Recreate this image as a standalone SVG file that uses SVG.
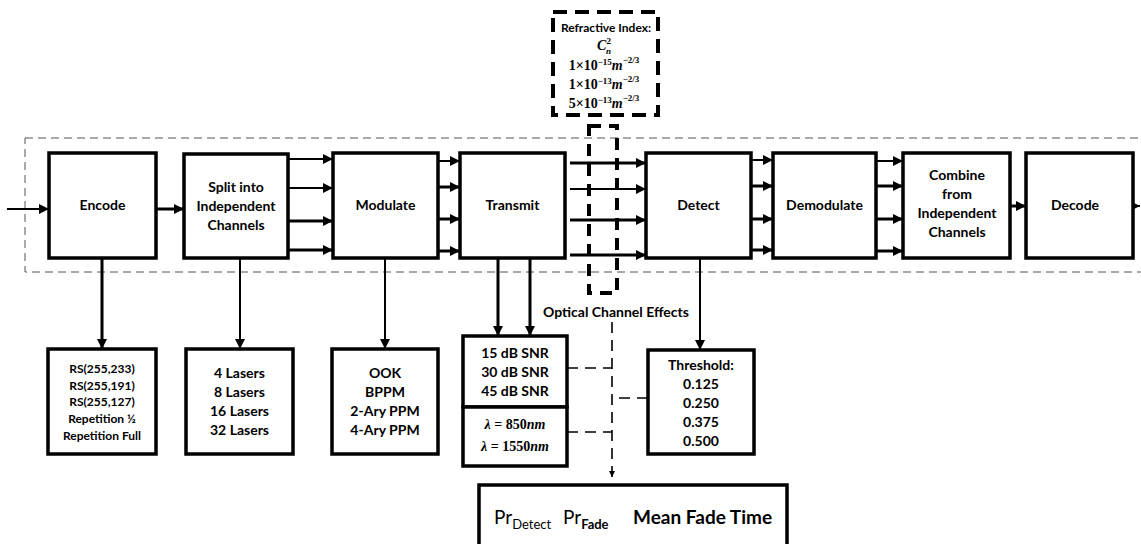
<svg xmlns="http://www.w3.org/2000/svg" width="1141" height="544" viewBox="0 0 1141 544">
<style>
.box{fill:#fff;stroke:#000;stroke-width:3.5}
.lbl{font-family:Lato,"Liberation Sans",sans-serif;font-weight:bold;font-size:14px;text-anchor:middle;fill:#000}
.sm{font-size:12px}
.math{font-family:"Liberation Serif",serif;font-weight:bold;font-size:14px;text-anchor:middle;fill:#000}
.sup{font-size:9px}
.c{stroke:#000;fill:none}
.t2{stroke-width:2}
.t3{stroke-width:3}
.dl{stroke:#000;stroke-width:1.6;stroke-dasharray:11 7;fill:none}
.res{font-family:Lato,"Liberation Sans",sans-serif;font-size:19px;fill:#000}
</style>
<defs>
<marker id="ah" viewBox="0 0 10 10" refX="10" refY="5" markerWidth="10" markerHeight="10" markerUnits="userSpaceOnUse" orient="auto"><path d="M0,0 L10,5 L0,10 z" fill="#000"/></marker>
<marker id="ahs" viewBox="0 0 10 10" refX="10" refY="5" markerWidth="6" markerHeight="6" markerUnits="userSpaceOnUse" orient="auto"><path d="M0,0 L10,5 L0,10 z" fill="#000"/></marker>
</defs>
<rect width="1141" height="544" fill="#fff"/>
<rect id="system-boundary" x="25" y="138" width="1130" height="134" fill="none" stroke="#555" stroke-width="1" stroke-dasharray="8 5"/>

<g id="refractive-index">
<rect x="553" y="12" width="105" height="103" fill="#fff" stroke="#000" stroke-width="4" stroke-dasharray="14 8"/>
<text class="lbl sm" x="606" y="32">Refractive Index:</text>
<text class="math" x="604" y="50"><tspan font-style="italic">C</tspan><tspan class="sup" dy="-6">2</tspan><tspan class="sup" dx="-5" dy="10" font-style="italic">n</tspan></text>
<text class="math" x="604" y="70">1×10<tspan class="sup" dy="-5">−15</tspan><tspan dy="5" font-style="italic">m</tspan><tspan class="sup" dy="-7">−2/3</tspan></text>
<text class="math" x="604" y="89">1×10<tspan class="sup" dy="-5">−13</tspan><tspan dy="5" font-style="italic">m</tspan><tspan class="sup" dy="-7">−2/3</tspan></text>
<text class="math" x="604" y="108">5×10<tspan class="sup" dy="-5">−13</tspan><tspan dy="5" font-style="italic">m</tspan><tspan class="sup" dy="-7">−2/3</tspan></text>
</g>

<g id="connectors">
<line class="c t2" x1="7" y1="209" x2="49" y2="209" marker-end="url(#ah)"/>
<line class="c t3" x1="156" y1="209" x2="184" y2="209" marker-end="url(#ah)"/>
<line class="c t2" x1="288" y1="159" x2="333" y2="159" marker-end="url(#ah)"/>
<line class="c t2" x1="288" y1="188" x2="333" y2="188" marker-end="url(#ah)"/>
<line class="c t3" x1="288" y1="221" x2="333" y2="221" marker-end="url(#ah)"/>
<line class="c t3" x1="288" y1="250" x2="333" y2="250" marker-end="url(#ah)"/>
<line class="c t2" x1="438" y1="161" x2="460" y2="161" marker-end="url(#ah)"/>
<line class="c t3" x1="438" y1="187" x2="460" y2="187" marker-end="url(#ah)"/>
<line class="c t3" x1="438" y1="219" x2="460" y2="219" marker-end="url(#ah)"/>
<line class="c t3" x1="438" y1="251" x2="460" y2="251" marker-end="url(#ah)"/>
<line class="c t3" x1="570" y1="163" x2="646" y2="163" marker-end="url(#ah)"/>
<line class="c t2" x1="570" y1="189" x2="646" y2="189" marker-end="url(#ah)"/>
<line class="c t3" x1="570" y1="220" x2="646" y2="220" marker-end="url(#ah)"/>
<line class="c t3" x1="570" y1="255" x2="646" y2="255" marker-end="url(#ah)"/>
<line class="c t2" x1="751" y1="160" x2="773" y2="160" marker-end="url(#ah)"/>
<line class="c t3" x1="751" y1="186" x2="773" y2="186" marker-end="url(#ah)"/>
<line class="c t3" x1="751" y1="219" x2="773" y2="219" marker-end="url(#ah)"/>
<line class="c t3" x1="751" y1="250" x2="773" y2="250" marker-end="url(#ah)"/>
<line class="c t2" x1="876" y1="161" x2="903" y2="161" marker-end="url(#ah)"/>
<line class="c t3" x1="876" y1="186" x2="903" y2="186" marker-end="url(#ah)"/>
<line class="c t3" x1="876" y1="219" x2="903" y2="219" marker-end="url(#ah)"/>
<line class="c t3" x1="876" y1="251" x2="903" y2="251" marker-end="url(#ah)"/>
<line class="c t3" x1="1010" y1="206" x2="1026" y2="206" marker-end="url(#ah)"/>
<line class="c t2" x1="1107" y1="206" x2="1140" y2="206" marker-end="url(#ah)"/>
<line class="c t3" x1="102" y1="258" x2="102" y2="349" marker-end="url(#ah)"/>
<line class="c t2" x1="240" y1="258" x2="240" y2="349" marker-end="url(#ah)"/>
<line class="c t2" x1="385" y1="258" x2="385" y2="349" marker-end="url(#ah)"/>
<line class="c t3" x1="498" y1="258" x2="498" y2="336" marker-end="url(#ah)"/>
<line class="c t3" x1="530" y1="258" x2="530" y2="336" marker-end="url(#ah)"/>
<line class="c t2" x1="700" y1="258" x2="700" y2="350" marker-end="url(#ah)"/>
<line class="dl" x1="567" y1="368" x2="612" y2="368"/>
<line class="dl" x1="567" y1="432" x2="612" y2="432"/>
<line class="dl" x1="648" y1="398" x2="612" y2="398"/>
<line class="dl" x1="612" y1="322" x2="612" y2="477" stroke-dasharray="11 6" marker-end="url(#ahs)"/>
</g>

<g id="optical-channel">
<rect x="589" y="126" width="28" height="167" fill="none" stroke="#000" stroke-width="4" stroke-dasharray="12 8"/>
<text class="lbl" x="616" y="317" font-size="13">Optical Channel Effects</text>
</g>

<g id="encode"><rect class="box" x="49" y="153" width="107" height="105"/><text class="lbl" x="102.5" y="210">Encode</text></g>
<g id="split"><rect class="box" x="184" y="154" width="104" height="104"/><text class="lbl" x="236" y="192">Split into</text><text class="lbl" x="236" y="211">Independent</text><text class="lbl" x="236" y="230">Channels</text></g>
<g id="modulate"><rect class="box" x="333" y="153" width="105" height="105"/><text class="lbl" x="385.5" y="210">Modulate</text></g>
<g id="transmit"><rect class="box" x="460" y="153" width="105" height="105"/><text class="lbl" x="512.5" y="210">Transmit</text></g>
<g id="detect"><rect class="box" x="646" y="153" width="105" height="105"/><text class="lbl" x="698.5" y="210">Detect</text></g>
<g id="demodulate"><rect class="box" x="773" y="153" width="103" height="105"/><text class="lbl" x="824.5" y="210">Demodulate</text></g>
<g id="combine"><rect class="box" x="903" y="153" width="107" height="105"/><text class="lbl" x="957" y="180">Combine</text><text class="lbl" x="957" y="199">from</text><text class="lbl" x="957" y="218">Independent</text><text class="lbl" x="957" y="237">Channels</text></g>
<g id="decode"><rect class="box" x="1026" y="153" width="107" height="105"/><text class="lbl" x="1075" y="210">Decode</text></g>

<g id="codes"><rect class="box" x="48" y="349" width="108" height="105"/>
<text class="lbl sm" x="102" y="373">RS(255,233)</text><text class="lbl sm" x="102" y="390">RS(255,191)</text><text class="lbl sm" x="102" y="406">RS(255,127)</text><text class="lbl sm" x="102" y="423">Repetition ½</text><text class="lbl sm" x="102" y="440">Repetition Full</text></g>
<g id="lasers"><rect class="box" x="186" y="349" width="107" height="105"/>
<text class="lbl" x="239.5" y="378">4 Lasers</text><text class="lbl" x="239.5" y="397">8 Lasers</text><text class="lbl" x="239.5" y="416">16 Lasers</text><text class="lbl" x="239.5" y="435">32 Lasers</text></g>
<g id="modulations"><rect class="box" x="332" y="349" width="106" height="105"/>
<text class="lbl" x="385" y="378">OOK</text><text class="lbl" x="385" y="397">BPPM</text><text class="lbl" x="385" y="416">2-Ary PPM</text><text class="lbl" x="385" y="435">4-Ary PPM</text></g>
<g id="snr"><rect class="box" x="463" y="336" width="104" height="71"/>
<text class="lbl" x="515" y="358">15 dB SNR</text><text class="lbl" x="515" y="377">30 dB SNR</text><text class="lbl" x="515" y="396">45 dB SNR</text></g>
<g id="wavelength"><rect class="box" x="463" y="407" width="104" height="59"/>
<text class="math" x="515" y="429" font-size="13"><tspan font-style="italic">λ</tspan> = 850<tspan font-style="italic">nm</tspan></text>
<text class="math" x="515" y="451" font-size="13"><tspan font-style="italic">λ</tspan> = 1550<tspan font-style="italic">nm</tspan></text></g>
<g id="threshold"><rect class="box" x="648" y="350" width="106" height="104"/>
<text class="lbl" x="701" y="370">Threshold:</text><text class="lbl" x="701" y="389">0.125</text><text class="lbl" x="701" y="408">0.250</text><text class="lbl" x="701" y="427">0.375</text><text class="lbl" x="701" y="446">0.500</text></g>
<g id="results"><rect class="box" x="479" y="485" width="308" height="70"/>
<text class="res" x="494" y="524">Pr<tspan font-size="13" dy="5">Detect</tspan></text>
<text class="res" x="563" y="524">Pr<tspan font-size="13" dy="5" font-weight="bold">Fade</tspan></text>
<text class="res" x="633" y="524" font-weight="bold" font-size="18.5">Mean Fade Time</text></g>
</svg>
